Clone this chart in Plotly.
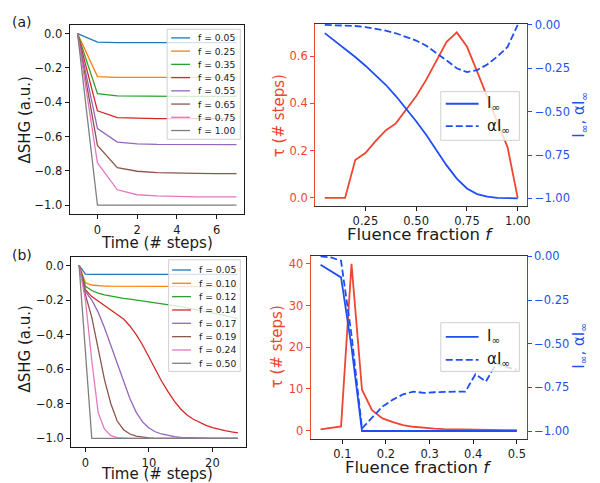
import plotly.graph_objects as go

W, H = 600, 483
FONT = "DejaVu Sans"

# ---------------- panel (a): SHG transients ----------------
t_a = [-1, 0, 1, 2, 3, 4, 5, 6, 7]
f_labels_a = ["0.05", "0.25", "0.35", "0.45", "0.55", "0.65", "0.75", "1.00"]
shg_a_005 = [0, -0.050, -0.052, -0.052, -0.052, -0.052, -0.052, -0.052, -0.052]
shg_a_025 = [0, -0.250, -0.255, -0.255, -0.255, -0.255, -0.255, -0.255, -0.255]
shg_a_035 = [0, -0.350, -0.363, -0.365, -0.366, -0.366, -0.366, -0.366, -0.366]
shg_a_045 = [0, -0.450, -0.489, -0.494, -0.495, -0.495, -0.495, -0.495, -0.495]
shg_a_055 = [0, -0.553, -0.632, -0.643, -0.646, -0.647, -0.647, -0.647, -0.647]
shg_a_065 = [0, -0.651, -0.781, -0.802, -0.810, -0.814, -0.815, -0.816, -0.816]
shg_a_075 = [0, -0.754, -0.910, -0.939, -0.946, -0.950, -0.951, -0.952, -0.952]
shg_a_100 = [0, -1.000, -1.000, -1.000, -1.000, -1.000, -1.000, -1.000, -1.000]
shg_a = [shg_a_005, shg_a_025, shg_a_035, shg_a_045,
         shg_a_055, shg_a_065, shg_a_075, shg_a_100]

# ---------------- panel (a): fluence dependence ----------------
f_a = [0.05, 0.10, 0.15, 0.20, 0.25, 0.30, 0.35, 0.40, 0.45, 0.50,
       0.55, 0.60, 0.65, 0.70, 0.75, 0.80, 0.85, 0.90, 0.95, 1.00]
tau_a = [0.0, 0.0, 0.0, 0.16, 0.19, 0.24, 0.285, 0.315, 0.37, 0.43,
         0.50, 0.58, 0.66, 0.70, 0.64, 0.535, 0.425, 0.32, 0.215, 0.0]
iinf_a = [-0.047, -0.092, -0.138, -0.185, -0.235, -0.288, -0.345, -0.41, -0.48, -0.555,
          -0.635, -0.725, -0.81, -0.886, -0.943, -0.975, -0.99, -0.997, -1.0, -1.0]
aiinf_a = [0.0, -0.001, -0.003, -0.006, -0.012, -0.021, -0.033, -0.048, -0.067, -0.09,
           -0.12, -0.16, -0.205, -0.25, -0.272, -0.26, -0.228, -0.182, -0.127, 0.0]

# ---------------- panel (b): SHG transients ----------------
t_b = [-1, 0, 1, 2, 3, 4, 5, 6, 7, 8, 9, 10, 11, 12,
       13, 14, 15, 16, 17, 18, 19, 20, 21, 22, 23, 24]
f_labels_b = ["0.05", "0.10", "0.12", "0.14", "0.17", "0.19", "0.24", "0.50"]
shg_b_005 = [0, -0.050, -0.052, -0.052, -0.052, -0.052, -0.052, -0.052, -0.052, -0.052,
             -0.052, -0.052, -0.052, -0.052, -0.052, -0.052, -0.052, -0.052, -0.052,
             -0.052, -0.052, -0.052, -0.052, -0.052, -0.052, -0.052]
shg_b_010 = [0, -0.100, -0.113, -0.117, -0.119, -0.120, -0.120, -0.121, -0.121, -0.121,
             -0.122, -0.122, -0.122, -0.122, -0.122, -0.122, -0.122, -0.122, -0.122,
             -0.122, -0.122, -0.122, -0.122, -0.122, -0.122, -0.122]
shg_b_012 = [0, -0.120, -0.145, -0.160, -0.170, -0.178, -0.185, -0.190, -0.195, -0.200,
             -0.205, -0.210, -0.215, -0.220, -0.226, -0.232, -0.238, -0.245, -0.252,
             -0.259, -0.266, -0.273, -0.280, -0.288, -0.297, -0.310]
shg_b_014 = [0, -0.140, -0.180, -0.205, -0.230, -0.255, -0.280, -0.310, -0.350, -0.400,
             -0.460, -0.530, -0.600, -0.670, -0.730, -0.785, -0.830, -0.865, -0.890,
             -0.910, -0.925, -0.938, -0.948, -0.956, -0.963, -0.969]
shg_b_017 = [0, -0.150, -0.200, -0.270, -0.360, -0.460, -0.560, -0.670, -0.770, -0.850,
             -0.905, -0.940, -0.962, -0.975, -0.984, -0.990, -0.994, -0.996, -0.998,
             -0.999, -1.0, -1.0, -1.0, -1.0, -1.0, -1.0]
shg_b_019 = [0, -0.170, -0.300, -0.480, -0.660, -0.800, -0.900, -0.950, -0.975, -0.988,
             -0.995, -0.998, -1.0, -1.0, -1.0, -1.0, -1.0, -1.0, -1.0,
             -1.0, -1.0, -1.0, -1.0, -1.0, -1.0, -1.0]
shg_b_024 = [0, -0.200, -0.550, -0.850, -0.947, -0.985, -0.996, -0.999, -1.0, -1.0,
             -1.0, -1.0, -1.0, -1.0, -1.0, -1.0, -1.0, -1.0, -1.0,
             -1.0, -1.0, -1.0, -1.0, -1.0, -1.0, -1.0]
shg_b_050 = [0, -0.500, -1.0, -1.0, -1.0, -1.0, -1.0, -1.0, -1.0, -1.0,
             -1.0, -1.0, -1.0, -1.0, -1.0, -1.0, -1.0, -1.0, -1.0,
             -1.0, -1.0, -1.0, -1.0, -1.0, -1.0, -1.0]
shg_b = [shg_b_005, shg_b_010, shg_b_012, shg_b_014,
         shg_b_017, shg_b_019, shg_b_024, shg_b_050]

# ---------------- panel (b): fluence dependence ----------------
f_b = [0.050, 0.074, 0.097, 0.121, 0.145, 0.168, 0.192, 0.216, 0.239, 0.263,
       0.287, 0.311, 0.334, 0.358, 0.382, 0.405, 0.429, 0.453, 0.476, 0.500]
tau_b = [0.3, 0.6, 1.0, 40.0, 9.8, 4.9, 2.9, 2.0, 1.3, 0.9,
         0.6, 0.45, 0.35, 0.28, 0.22, 0.18, 0.15, 0.12, 0.10, 0.08]
iinf_b = [-0.047, -0.085, -0.12, -0.52, -1.0, -1.0, -1.0, -1.0, -1.0, -1.0,
          -1.0, -1.0, -1.0, -1.0, -1.0, -1.0, -1.0, -1.0, -1.0, -1.0]
aiinf_b = [0.0, -0.006, -0.025, -0.45, -0.985, -0.925, -0.86, -0.82, -0.79, -0.774,
           -0.782, -0.778, -0.775, -0.775, -0.775, -0.675, -0.717, -0.613, -0.633, -0.651]

# ---------------- styling ----------------
tab10 = ["#1f77b4", "#ff7f0e", "#2ca02c", "#d62728",
         "#9467bd", "#8c564b", "#e377c2", "#7f7f7f"]
RED = "#ef4631"
BLUE = "#1f4ff2"
DASH = "7px,3px"


def X(px):
    return px / W


def Y(py):
    return 1 - py / H


fig = go.Figure()

# transient curves
for ys, c in zip(shg_a, tab10):
    fig.add_trace(go.Scatter(x=t_a, y=ys, xaxis="x", yaxis="y", mode="lines",
                             line=dict(color=c, width=1.3)))
for ys, c in zip(shg_b, tab10):
    fig.add_trace(go.Scatter(x=t_b, y=ys, xaxis="x3", yaxis="y4", mode="lines",
                             line=dict(color=c, width=1.3)))

# fluence-dependence curves
fig.add_trace(go.Scatter(x=f_a, y=tau_a, xaxis="x2", yaxis="y2", mode="lines",
                         line=dict(color=RED, width=1.8)))
fig.add_trace(go.Scatter(x=f_a, y=iinf_a, xaxis="x2", yaxis="y3", mode="lines",
                         line=dict(color=BLUE, width=1.8)))
fig.add_trace(go.Scatter(x=f_a, y=aiinf_a, xaxis="x2", yaxis="y3", mode="lines",
                         line=dict(color=BLUE, width=1.8, dash=DASH)))
fig.add_trace(go.Scatter(x=f_b, y=tau_b, xaxis="x4", yaxis="y5", mode="lines",
                         line=dict(color=RED, width=1.8)))
fig.add_trace(go.Scatter(x=f_b, y=iinf_b, xaxis="x4", yaxis="y6", mode="lines",
                         line=dict(color=BLUE, width=1.8)))
fig.add_trace(go.Scatter(x=f_b, y=aiinf_b, xaxis="x4", yaxis="y6", mode="lines",
                         line=dict(color=BLUE, width=1.8, dash=DASH)))

tickfont = dict(family=FONT, size=11.5, color="#1a1a1a")


def frame_axis(**kw):
    d = dict(showline=True, mirror=True, linecolor="#1a1a1a", linewidth=1,
             ticks="outside", ticklen=4, tickwidth=1, tickcolor="#1a1a1a",
             showgrid=False, zeroline=False, tickfont=tickfont, fixedrange=True)
    d.update(kw)
    return d


def color_axis(color, **kw):
    d = dict(showline=True, mirror=False, linecolor=color, linewidth=1.2,
             ticks="outside", ticklen=4, tickwidth=1, tickcolor=color,
             showgrid=False, zeroline=False,
             tickfont=dict(family=FONT, size=11.5, color=color), fixedrange=True)
    d.update(kw)
    return d


shg_ticks = [0.0, -0.2, -0.4, -0.6, -0.8, -1.0]
i_ticks = [0.0, -0.25, -0.5, -0.75, -1.0]

fig.update_layout(
    width=W, height=H,
    margin=dict(l=0, r=0, t=0, b=0),
    paper_bgcolor="white", plot_bgcolor="white",
    showlegend=False,
    font=dict(family=FONT, color="#1a1a1a"),
    # (a) left
    xaxis=frame_axis(domain=[X(70), X(245.7)], range=[-1.4, 7.4], anchor="y",
                     tickvals=[0, 2, 4, 6], ticklabelstandoff=1),
    yaxis=frame_axis(domain=[Y(210.4), Y(19.3)], range=[-1.05, 0.05], anchor="x",
                     tickvals=shg_ticks, tickformat=".1f"),
    # (a) right
    xaxis2=frame_axis(domain=[X(316.7), X(530)], range=[0.0025, 1.0475], anchor="y2",
                      tickvals=[0.25, 0.5, 0.75, 1.0], tickformat=".2f",
                      linecolor="#333333", linewidth=1.4),
    yaxis2=color_axis(RED, domain=[Y(202.7), Y(18.3)], range=[-0.035, 0.735],
                      anchor="x2", tickvals=[0.0, 0.2, 0.4, 0.6], tickformat=".1f"),
    yaxis3=color_axis(BLUE, overlaying="y2", side="right", anchor="x2",
                      range=[-1.045, 0.005], tickvals=i_ticks, tickformat=".2f"),
    # (b) left
    xaxis3=frame_axis(domain=[X(71.5), X(247)], range=[-2.25, 25.25], anchor="y4",
                      tickvals=[0, 10, 20], ticklabelstandoff=1),
    yaxis4=frame_axis(domain=[Y(446.5), Y(254)], range=[-1.05, 0.05], anchor="x3",
                      tickvals=shg_ticks, tickformat=".1f"),
    # (b) right
    xaxis4=frame_axis(domain=[X(312.3), X(529.3)], range=[0.0275, 0.5225], anchor="y5",
                      tickvals=[0.1, 0.2, 0.3, 0.4, 0.5], tickformat=".1f",
                      linecolor="#333333", linewidth=1.4),
    yaxis5=color_axis(RED, domain=[Y(438.3), Y(252.7)], range=[-2, 42],
                      anchor="x4", tickvals=[0, 10, 20, 30, 40]),
    yaxis6=color_axis(BLUE, overlaying="y5", side="right", anchor="x4",
                      range=[-1.045, 0.005], tickvals=i_ticks, tickformat=".2f"),
)

shapes = []
annotations = []


def text(x, y, s, size, color="#1a1a1a", angle=0, xanchor="center"):
    annotations.append(dict(x=X(x), y=Y(y), xref="paper", yref="paper", text=s,
                            showarrow=False, textangle=angle, xanchor=xanchor,
                            yanchor="middle",
                            font=dict(family=FONT, size=size, color=color)))


def legend(box, rows, x_line, x_text, size):
    x0, y0, x1, y1 = box
    shapes.append(dict(type="rect", xref="paper", yref="paper",
                       x0=X(x0), x1=X(x1), y0=Y(y1), y1=Y(y0), layer="above",
                       fillcolor="rgba(255,255,255,0.8)",
                       line=dict(color="#d0d0d0", width=1)))
    for yy, color, dash, label, lw in rows:
        shapes.append(dict(type="line", xref="paper", yref="paper", layer="above",
                           x0=X(x_line[0]), x1=X(x_line[1]), y0=Y(yy), y1=Y(yy),
                           line=dict(color=color, width=lw, dash=dash)))
        text(x_text, yy, label, size, xanchor="left")


# transient legends
rows_a = [(32.3 + 13.4 * i, c, "solid", "f = " + lab, 1.3)
          for i, (c, lab) in enumerate(zip(tab10, f_labels_a))]
legend((168, 23.5, 241.5, 135), rows_a, (172, 191), 197, 9.2)
rows_b = [(267.3 + 13.5 * i, c, "solid", "f = " + lab, 1.3)
          for i, (c, lab) in enumerate(zip(tab10, f_labels_b))]
legend((169.5, 257, 241.5, 370), rows_b, (173, 192), 198, 9.2)

# fluence-dependence legends
lab_i = "I<sub>∞</sub>"
lab_ai = "αI<sub>∞</sub>"
legend((443, 86.7, 522, 136),
       [(99, BLUE, "solid", lab_i, 1.8), (121.7, BLUE, DASH, lab_ai, 1.8)],
       (448, 481), 487, 15)
legend((443, 320.7, 522, 370),
       [(335, BLUE, "solid", lab_i, 1.8), (358.3, BLUE, DASH, lab_ai, 1.8)],
       (448, 481), 487, 15)

# axis titles
for yc in (115, 347):
    text(25, yc, "ΔSHG (a.u.)", 15, angle=-90)
text(157.5, 239.5, "Time (# steps)", 15)
text(157.5, 474, "Time (# steps)", 15)
text(422.5, 231, "Fluence fraction <i>f</i>", 16.5)
text(420, 467.5, "Fluence fraction <i>f</i>", 16.5)
text(280, 111, "τ (# steps)", 15, color=RED, angle=-90)
text(278, 345, "τ (# steps)", 15, color=RED, angle=-90)
text(583, 110, "I<sub>∞</sub>, αI<sub>∞</sub>", 15, color=BLUE, angle=-90)
text(583, 344, "I<sub>∞</sub>, αI<sub>∞</sub>", 15, color=BLUE, angle=-90)

# panel letters
text(22, 16, "(a)", 14)
text(22, 252, "(b)", 14)

fig.update_layout(shapes=shapes, annotations=annotations)
fig.write_html("out.html")
